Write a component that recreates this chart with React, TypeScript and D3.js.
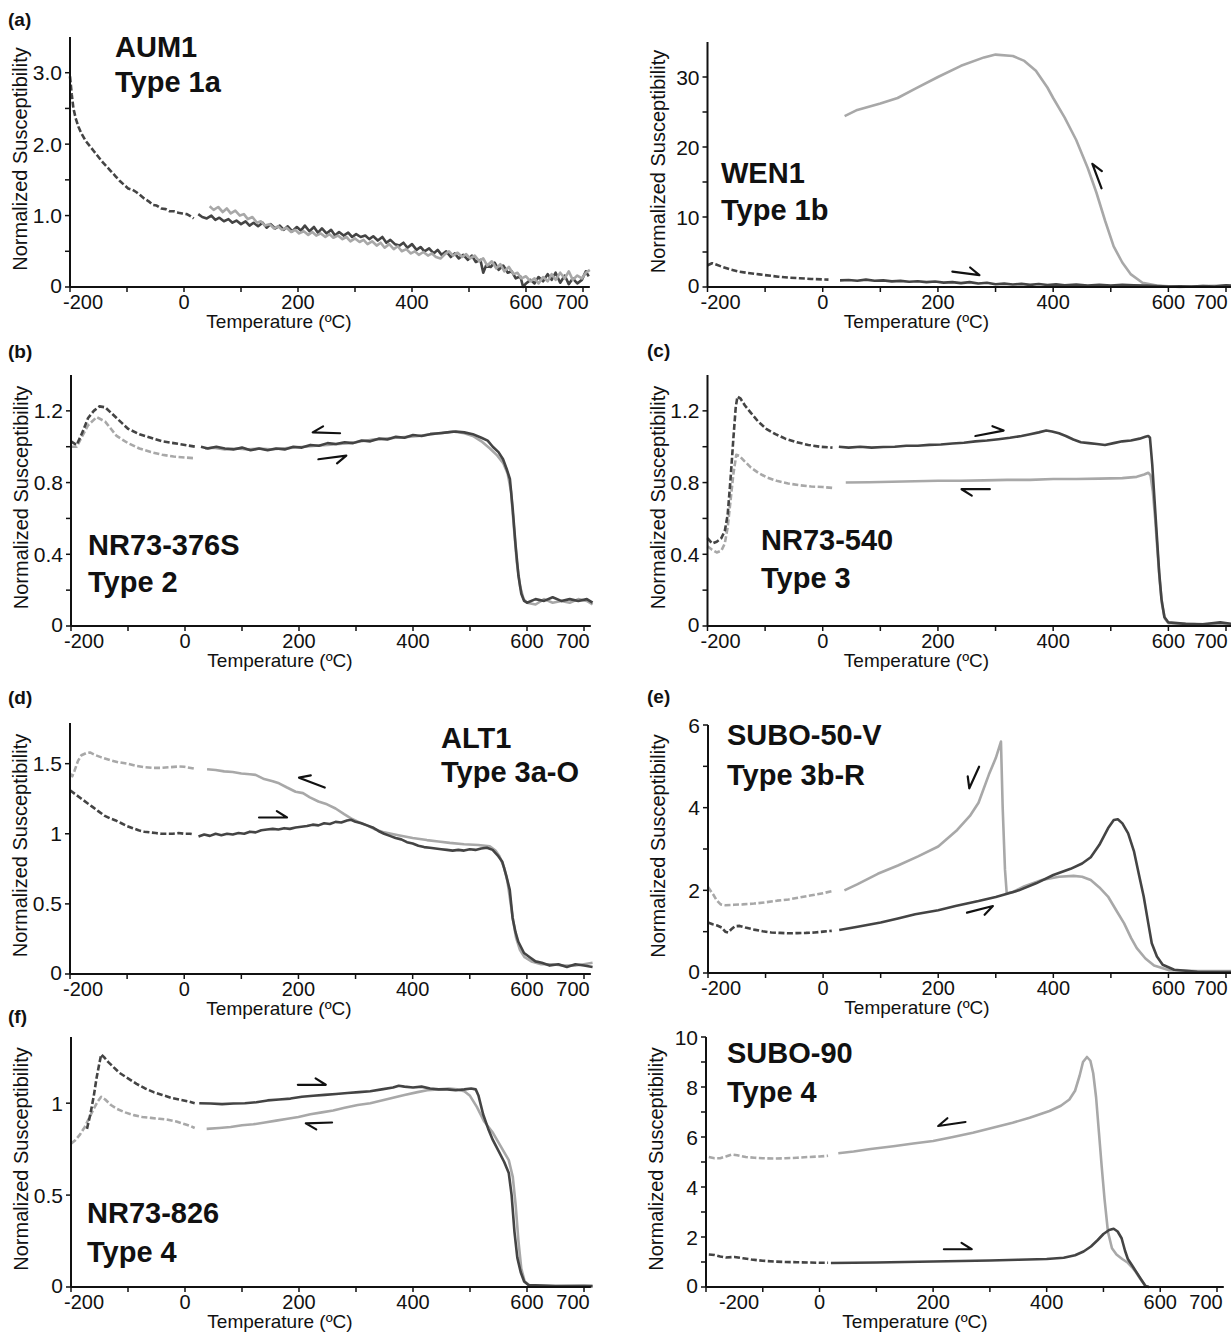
import React from 'react';
import * as d3 from 'd3';

type Pt = [number, number];
// arrow: [tipT, tipValue, tailT, tailValue, barbSide]
type Arrow = [number, number, number, number, number];

const FONT = "'Liberation Sans', Arial, Helvetica, sans-serif";
const DARK = '#444444';
const LIGHT = '#a8a8a8';

const X_TICKS = d3.range(-200, 701, 100);
const X_LABELS = [-200, 0, 200, 400, 600, 700];

// ---- (a) AUM1 ----
const aumHeatLow: Pt[] = [[-200, 2.95], [-197, 2.7], [-194, 2.5], [-190, 2.36], [-185, 2.24], [-180, 2.15], [-172, 2.04], [-165, 1.97], [-158, 1.9], [-150, 1.82], [-142, 1.74], [-135, 1.68], [-128, 1.62], [-120, 1.55], [-112, 1.48], [-105, 1.43], [-98, 1.38], [-90, 1.36], [-84, 1.33], [-76, 1.28], [-70, 1.24], [-62, 1.2], [-55, 1.15], [-48, 1.14], [-40, 1.1], [-32, 1.09], [-25, 1.06], [-18, 1.06], [-10, 1.04], [-3, 1.03], [5, 1.02], [12, 0.99], [17, 0.96]];
const aumHeatHigh: Pt[] = [[25, 1.02], [32, 0.98], [40, 0.96], [48, 1.0], [55, 0.94], [62, 0.97], [70, 0.92], [78, 0.95], [85, 0.9], [92, 0.93], [100, 0.88], [108, 0.92], [115, 0.86], [122, 0.9], [130, 0.85], [138, 0.9], [145, 0.83], [152, 0.88], [160, 0.82], [168, 0.86], [175, 0.8], [182, 0.85], [190, 0.78], [198, 0.84], [205, 0.79], [212, 0.86], [220, 0.78], [228, 0.84], [235, 0.76], [242, 0.82], [250, 0.75], [258, 0.8], [265, 0.72], [272, 0.77], [280, 0.72], [288, 0.76], [295, 0.7], [302, 0.74], [310, 0.7], [318, 0.72], [325, 0.67], [332, 0.71], [340, 0.65], [348, 0.7], [355, 0.62], [362, 0.66], [370, 0.6], [378, 0.58], [385, 0.62], [392, 0.55], [400, 0.6], [408, 0.52], [415, 0.56], [422, 0.5], [430, 0.54], [438, 0.47], [445, 0.52], [452, 0.45], [460, 0.5], [468, 0.42], [475, 0.47], [482, 0.4], [490, 0.45], [498, 0.38], [505, 0.44], [512, 0.35], [520, 0.38], [525, 0.2], [530, 0.3], [538, 0.28], [545, 0.34], [552, 0.24], [560, 0.3], [568, 0.2], [575, 0.22], [582, 0.12], [590, 0.15], [595, 0.0], [600, 0.05], [608, 0.1], [615, 0.05], [622, 0.14], [630, 0.08], [638, 0.18], [645, 0.1], [652, 0.2], [660, 0.06], [668, 0.16], [675, 0.04], [682, 0.12], [690, 0.05], [698, 0.1], [705, 0.22], [710, 0.15]];
const aumCoolHigh: Pt[] = [[45, 1.13], [52, 1.08], [60, 1.12], [68, 1.05], [75, 1.1], [82, 1.03], [90, 1.07], [98, 1.0], [105, 1.02], [112, 0.95], [120, 0.98], [128, 0.9], [135, 0.92], [142, 0.86], [150, 0.88], [158, 0.82], [165, 0.85], [172, 0.8], [180, 0.83], [188, 0.77], [195, 0.8], [202, 0.75], [210, 0.78], [218, 0.73], [225, 0.77], [232, 0.72], [240, 0.75], [248, 0.7], [255, 0.74], [262, 0.69], [270, 0.72], [278, 0.67], [285, 0.7], [292, 0.64], [300, 0.68], [308, 0.63], [315, 0.66], [322, 0.6], [330, 0.64], [338, 0.58], [345, 0.62], [352, 0.55], [360, 0.6], [368, 0.53], [375, 0.57], [382, 0.5], [390, 0.53], [398, 0.47], [405, 0.5], [412, 0.45], [420, 0.49], [428, 0.44], [435, 0.47], [442, 0.42], [450, 0.4], [458, 0.46], [465, 0.5], [472, 0.44], [480, 0.48], [488, 0.42], [495, 0.46], [502, 0.4], [510, 0.44], [518, 0.36], [525, 0.4], [532, 0.3], [540, 0.36], [548, 0.26], [555, 0.32], [562, 0.22], [570, 0.28], [578, 0.18], [585, 0.2], [592, 0.12], [600, 0.15], [608, 0.08], [615, 0.12], [622, 0.05], [630, 0.14], [638, 0.08], [645, 0.18], [652, 0.1], [660, 0.2], [668, 0.12], [675, 0.22], [682, 0.1], [690, 0.16], [698, 0.12], [705, 0.2], [712, 0.24]];

// ---- WEN1 ----
const wenHeatLow: Pt[] = [[-200, 3.1], [-192, 3.4], [-185, 3.2], [-175, 2.9], [-160, 2.5], [-145, 2.2], [-130, 2.0], [-110, 1.8], [-90, 1.6], [-77, 1.47], [-60, 1.35], [-40, 1.25], [-20, 1.15], [0, 1.08], [10, 1.05]];
const wenHeatHigh: Pt[] = [[30, 0.95], [45, 1.0], [60, 0.9], [75, 1.05], [90, 0.9], [105, 0.95], [120, 0.8], [135, 0.88], [150, 0.75], [165, 0.82], [180, 0.7], [195, 0.78], [210, 0.62], [225, 0.7], [240, 0.55], [255, 0.7], [270, 0.5], [285, 0.6], [300, 0.4], [315, 0.48], [330, 0.35], [345, 0.45], [360, 0.3], [375, 0.42], [390, 0.28], [405, 0.38], [420, 0.25], [440, 0.35], [460, 0.22], [480, 0.32], [500, 0.2], [520, 0.3], [540, 0.25], [560, 0.2], [580, 0.12], [600, 0.05], [620, 0.1], [640, 0.05], [660, 0.15], [680, 0.08], [700, 0.25], [712, 0.2]];
const wenCoolHigh: Pt[] = [[38, 24.4], [60, 25.3], [100, 26.2], [130, 27.0], [160, 28.3], [200, 30.0], [240, 31.6], [280, 32.8], [300, 33.2], [330, 33.0], [350, 32.3], [370, 30.9], [390, 28.5], [400, 27.0], [420, 24.2], [440, 21.0], [460, 17.0], [475, 13.5], [490, 9.5], [505, 5.8], [520, 3.5], [535, 1.8], [555, 0.6], [580, 0.2], [620, 0.0], [660, 0.15], [700, 0.2], [715, 0.0]];
const wenArrows: Arrow[] = [[272, 1.7, 225, 2.2, 1], [468, 17.6, 484, 14.1, -1]];

// ---- (b) NR73-376S ----
const n376HeatLow: Pt[] = [[-200, 1.03], [-190, 1.01], [-180, 1.08], [-170, 1.16], [-160, 1.2], [-150, 1.225], [-140, 1.22], [-130, 1.19], [-120, 1.16], [-110, 1.13], [-100, 1.1], [-80, 1.07], [-60, 1.05], [-40, 1.03], [-20, 1.02], [0, 1.01], [18, 1.0]];
const n376CoolLow: Pt[] = [[-200, 1.0], [-190, 1.0], [-180, 1.06], [-170, 1.12], [-155, 1.165], [-140, 1.14], [-130, 1.1], [-120, 1.06], [-100, 1.02], [-80, 0.99], [-60, 0.97], [-40, 0.955], [-20, 0.945], [0, 0.94], [18, 0.935]];
const n376HeatHigh: Pt[] = [[28, 1.0], [40, 0.99], [55, 1.0], [70, 0.99], [85, 0.985], [100, 0.995], [115, 0.98], [130, 0.99], [145, 0.98], [160, 0.99], [175, 0.985], [190, 1.0], [205, 0.995], [220, 1.01], [235, 1.005], [250, 1.02], [265, 1.015], [280, 1.025], [295, 1.02], [310, 1.035], [325, 1.03], [340, 1.045], [355, 1.04], [370, 1.055], [385, 1.05], [400, 1.065], [415, 1.06], [430, 1.07], [445, 1.075], [460, 1.08], [475, 1.085], [490, 1.08], [505, 1.07], [520, 1.05], [531, 1.034], [540, 1.0], [550, 0.97], [558, 0.93], [565, 0.87], [570, 0.82], [575, 0.65], [580, 0.45], [585, 0.28], [590, 0.18], [595, 0.14], [600, 0.13], [615, 0.15], [630, 0.14], [645, 0.16], [660, 0.14], [675, 0.15], [690, 0.14], [705, 0.15], [715, 0.13]];
const n376CoolHigh: Pt[] = [[35, 0.99], [50, 0.995], [70, 0.985], [90, 0.99], [110, 0.985], [130, 0.99], [150, 0.985], [170, 0.99], [190, 0.995], [210, 1.0], [230, 1.005], [250, 1.01], [270, 1.015], [290, 1.02], [310, 1.03], [330, 1.04], [350, 1.045], [370, 1.05], [390, 1.055], [410, 1.06], [430, 1.07], [450, 1.075], [470, 1.085], [490, 1.075], [505, 1.06], [520, 1.03], [535, 0.99], [548, 0.95], [558, 0.91], [566, 0.85], [572, 0.75], [577, 0.55], [582, 0.36], [588, 0.22], [594, 0.15], [600, 0.13], [615, 0.12], [630, 0.15], [645, 0.13], [660, 0.14], [675, 0.13], [690, 0.15], [705, 0.14], [715, 0.12]];
const n376Arrows: Arrow[] = [[224, 1.08, 272, 1.075, -1], [283, 0.95, 234, 0.93, -1]];

// ---- (c) NR73-540 ----
const n540HeatLow: Pt[] = [[-200, 0.49], [-192, 0.46], [-184, 0.47], [-176, 0.49], [-170, 0.53], [-165, 0.62], [-160, 0.82], [-155, 1.05], [-151, 1.22], [-148, 1.28], [-143, 1.27], [-135, 1.23], [-125, 1.19], [-112, 1.14], [-98, 1.1], [-82, 1.07], [-65, 1.045], [-45, 1.025], [-25, 1.01], [-5, 1.0], [17, 0.995]];
const n540CoolLow: Pt[] = [[-200, 0.445], [-192, 0.425], [-184, 0.41], [-176, 0.42], [-170, 0.46], [-165, 0.55], [-160, 0.7], [-155, 0.85], [-150, 0.955], [-145, 0.95], [-136, 0.92], [-125, 0.885], [-112, 0.855], [-98, 0.83], [-80, 0.81], [-60, 0.795], [-40, 0.785], [-20, 0.778], [0, 0.775], [17, 0.77]];
const n540HeatHigh: Pt[] = [[28, 1.0], [45, 0.995], [65, 1.0], [85, 0.995], [105, 0.998], [125, 1.0], [145, 1.005], [165, 1.005], [185, 1.01], [205, 1.012], [225, 1.018], [245, 1.022], [265, 1.03], [285, 1.035], [305, 1.042], [325, 1.05], [345, 1.06], [360, 1.07], [375, 1.08], [388, 1.09], [398, 1.085], [410, 1.075], [422, 1.06], [435, 1.04], [448, 1.025], [462, 1.02], [476, 1.015], [490, 1.01], [505, 1.02], [520, 1.03], [535, 1.035], [550, 1.045], [560, 1.055], [565, 1.06], [568, 1.05], [572, 0.9], [576, 0.7], [580, 0.5], [584, 0.3], [588, 0.15], [593, 0.05], [600, 0.02], [630, 0.012], [660, 0.01], [690, 0.02], [715, 0.01]];
const n540CoolHigh: Pt[] = [[40, 0.8], [80, 0.802], [120, 0.805], [160, 0.807], [200, 0.81], [240, 0.81], [280, 0.812], [320, 0.815], [360, 0.815], [400, 0.82], [440, 0.82], [480, 0.822], [520, 0.825], [545, 0.832], [558, 0.845], [565, 0.855], [569, 0.84], [573, 0.75], [577, 0.6], [581, 0.42], [585, 0.25], [589, 0.12], [594, 0.04], [600, 0.015], [650, 0.01], [700, 0.012], [715, 0.008]];
const n540Arrows: Arrow[] = [[314, 1.09, 265, 1.06, 1], [241, 0.763, 290, 0.763, 1]];

// ---- (d) ALT1 ----
const altHeatLow: Pt[] = [[-200, 1.31], [-190, 1.28], [-180, 1.25], [-170, 1.22], [-160, 1.19], [-150, 1.16], [-140, 1.13], [-130, 1.11], [-120, 1.095], [-110, 1.075], [-100, 1.055], [-90, 1.04], [-80, 1.025], [-70, 1.015], [-60, 1.01], [-50, 1.005], [-40, 1.0], [-30, 1.0], [-20, 1.0], [-10, 1.005], [0, 1.0], [10, 1.0], [17, 0.995]];
const altCoolLow: Pt[] = [[-200, 1.43], [-196, 1.41], [-192, 1.45], [-186, 1.52], [-180, 1.56], [-172, 1.575], [-165, 1.58], [-155, 1.56], [-145, 1.545], [-130, 1.525], [-115, 1.51], [-100, 1.5], [-85, 1.485], [-70, 1.475], [-55, 1.47], [-40, 1.47], [-25, 1.475], [-10, 1.48], [0, 1.478], [17, 1.465]];
const altHeatHigh: Pt[] = [[25, 0.98], [35, 0.995], [45, 0.985], [55, 1.0], [65, 0.99], [75, 1.0], [85, 0.995], [95, 1.005], [105, 1.0], [115, 1.015], [125, 1.01], [135, 1.025], [145, 1.03], [155, 1.035], [165, 1.03], [175, 1.04], [185, 1.035], [195, 1.045], [205, 1.05], [215, 1.055], [225, 1.065], [235, 1.06], [245, 1.075], [255, 1.07], [265, 1.085], [275, 1.08], [285, 1.095], [292, 1.1], [300, 1.085], [310, 1.075], [320, 1.06], [330, 1.045], [340, 1.02], [350, 1.0], [360, 0.985], [370, 0.97], [380, 0.96], [390, 0.94], [400, 0.93], [410, 0.915], [420, 0.905], [430, 0.9], [440, 0.895], [450, 0.89], [460, 0.885], [470, 0.88], [480, 0.885], [490, 0.88], [500, 0.89], [510, 0.885], [520, 0.895], [530, 0.9], [540, 0.885], [550, 0.84], [557, 0.8], [564, 0.7], [570, 0.6], [575, 0.4], [580, 0.3], [585, 0.23], [595, 0.15], [605, 0.12], [615, 0.09], [626, 0.08], [640, 0.06], [655, 0.07], [670, 0.05], [685, 0.07], [700, 0.06], [715, 0.05]];
const altCoolHigh: Pt[] = [[40, 1.46], [55, 1.455], [70, 1.445], [85, 1.44], [100, 1.43], [115, 1.425], [125, 1.42], [140, 1.39], [155, 1.375], [166, 1.36], [180, 1.33], [195, 1.3], [208, 1.29], [220, 1.26], [235, 1.23], [250, 1.21], [265, 1.18], [280, 1.14], [292, 1.11], [305, 1.085], [320, 1.06], [335, 1.03], [350, 1.01], [375, 0.99], [400, 0.97], [425, 0.955], [445, 0.945], [465, 0.935], [490, 0.925], [515, 0.92], [535, 0.91], [545, 0.88], [552, 0.84], [560, 0.76], [566, 0.66], [571, 0.52], [576, 0.38], [581, 0.26], [588, 0.17], [596, 0.12], [608, 0.09], [625, 0.07], [645, 0.07], [665, 0.06], [685, 0.06], [700, 0.07], [715, 0.08]];
const altArrows: Arrow[] = [[201, 1.4, 246, 1.33, -1], [180, 1.116, 131, 1.116, 1]];

// ---- (e) SUBO-50-V ----
const suboVHeatLow: Pt[] = [[-200, 1.22], [-192, 1.18], [-184, 1.15], [-176, 1.1], [-170, 1.0], [-165, 0.98], [-160, 1.05], [-153, 1.13], [-145, 1.14], [-135, 1.1], [-120, 1.05], [-105, 1.01], [-90, 0.98], [-75, 0.97], [-60, 0.96], [-45, 0.965], [-30, 0.97], [-15, 0.98], [0, 1.0], [15, 1.02]];
const suboVCoolLow: Pt[] = [[-200, 2.08], [-195, 1.98], [-190, 1.88], [-185, 1.76], [-178, 1.66], [-170, 1.64], [-155, 1.65], [-140, 1.66], [-120, 1.68], [-100, 1.71], [-80, 1.75], [-60, 1.78], [-40, 1.83], [-20, 1.88], [0, 1.93], [15, 1.98]];
const suboVHeatHigh: Pt[] = [[28, 1.04], [60, 1.12], [100, 1.22], [130, 1.32], [160, 1.42], [200, 1.52], [230, 1.62], [270, 1.74], [300, 1.84], [340, 2.0], [370, 2.17], [400, 2.37], [430, 2.52], [450, 2.65], [465, 2.8], [480, 3.1], [495, 3.5], [505, 3.7], [512, 3.72], [520, 3.62], [530, 3.38], [540, 2.95], [550, 2.3], [557, 1.85], [565, 1.2], [571, 0.72], [580, 0.4], [590, 0.2], [610, 0.08], [650, 0.03], [700, 0.02], [715, 0.02]];
const suboVCoolHigh: Pt[] = [[37, 2.0], [60, 2.15], [95, 2.4], [130, 2.6], [165, 2.82], [200, 3.06], [233, 3.46], [255, 3.8], [270, 4.12], [288, 4.8], [300, 5.2], [309, 5.6], [312, 4.0], [316, 2.5], [319, 1.93], [330, 1.96], [350, 2.1], [380, 2.25], [410, 2.33], [435, 2.35], [450, 2.33], [465, 2.25], [480, 2.07], [495, 1.85], [510, 1.5], [523, 1.2], [535, 0.85], [545, 0.6], [560, 0.35], [575, 0.18], [600, 0.07], [650, 0.05], [700, 0.05], [715, 0.04]];
const suboVArrows: Arrow[] = [[254, 4.47, 271, 4.99, -1], [295, 1.62, 250, 1.46, -1]];

// ---- (f) NR73-826 ----
const n826HeatLow: Pt[] = [[-172, 0.86], [-166, 0.94], [-160, 1.04], [-155, 1.14], [-150, 1.22], [-147, 1.265], [-142, 1.25], [-135, 1.225], [-125, 1.195], [-115, 1.165], [-100, 1.135], [-85, 1.105], [-70, 1.08], [-55, 1.06], [-40, 1.045], [-25, 1.03], [-10, 1.02], [5, 1.01], [17, 1.0]];
const n826CoolLow: Pt[] = [[-200, 0.78], [-192, 0.8], [-184, 0.83], [-176, 0.87], [-168, 0.92], [-160, 0.97], [-153, 1.01], [-147, 1.035], [-140, 1.02], [-130, 0.99], [-120, 0.97], [-105, 0.95], [-90, 0.935], [-75, 0.925], [-60, 0.92], [-45, 0.915], [-30, 0.91], [-15, 0.9], [0, 0.885], [10, 0.875], [17, 0.865]];
const n826HeatHigh: Pt[] = [[25, 1.0], [45, 0.998], [65, 0.995], [85, 0.998], [105, 1.0], [125, 1.005], [145, 1.015], [165, 1.02], [185, 1.025], [205, 1.035], [225, 1.04], [245, 1.045], [265, 1.05], [285, 1.055], [305, 1.06], [325, 1.065], [345, 1.075], [365, 1.085], [375, 1.095], [385, 1.09], [400, 1.085], [415, 1.09], [430, 1.08], [445, 1.075], [460, 1.075], [475, 1.07], [490, 1.075], [502, 1.08], [510, 1.075], [515, 1.04], [523, 0.94], [532, 0.86], [540, 0.8], [550, 0.74], [560, 0.68], [568, 0.62], [573, 0.5], [578, 0.3], [583, 0.16], [589, 0.08], [595, 0.03], [603, 0.01], [650, 0.005], [700, 0.005], [715, 0.005]];
const n826CoolHigh: Pt[] = [[38, 0.86], [60, 0.865], [80, 0.87], [100, 0.88], [120, 0.885], [140, 0.895], [160, 0.905], [180, 0.915], [199, 0.925], [220, 0.94], [240, 0.95], [260, 0.96], [280, 0.975], [303, 0.99], [325, 1.0], [345, 1.015], [365, 1.03], [385, 1.045], [408, 1.06], [425, 1.07], [445, 1.075], [463, 1.08], [478, 1.075], [490, 1.065], [500, 1.04], [512, 0.98], [525, 0.9], [540, 0.84], [555, 0.76], [568, 0.69], [575, 0.6], [580, 0.45], [585, 0.25], [590, 0.1], [596, 0.03], [605, 0.008], [650, 0.005], [700, 0.008], [715, 0.005]];
const n826Arrows: Arrow[] = [[247, 1.1, 198, 1.1, 1], [212, 0.89, 258, 0.895, 1]];

// ---- SUBO-90 ----
const subo90HeatLow: Pt[] = [[-195, 1.3], [-185, 1.28], [-175, 1.22], [-165, 1.18], [-150, 1.2], [-135, 1.15], [-120, 1.1], [-100, 1.05], [-80, 1.02], [-60, 1.0], [-40, 0.99], [-20, 0.98], [0, 0.97], [15, 0.97]];
const subo90CoolLow: Pt[] = [[-195, 5.2], [-185, 5.15], [-175, 5.15], [-165, 5.22], [-155, 5.3], [-145, 5.27], [-130, 5.2], [-115, 5.17], [-100, 5.15], [-80, 5.14], [-60, 5.15], [-40, 5.17], [-20, 5.2], [0, 5.22], [15, 5.25]];
const subo90HeatHigh: Pt[] = [[20, 0.96], [60, 0.97], [100, 0.98], [150, 1.0], [200, 1.02], [250, 1.04], [300, 1.06], [350, 1.09], [400, 1.12], [430, 1.17], [450, 1.27], [465, 1.42], [478, 1.62], [490, 1.88], [500, 2.12], [510, 2.28], [518, 2.33], [525, 2.22], [532, 1.95], [538, 1.45], [543, 1.12], [550, 0.88], [557, 0.63], [565, 0.35], [574, 0.04], [580, 0.0]];
const subo90CoolHigh: Pt[] = [[33, 5.35], [60, 5.42], [90, 5.52], [130, 5.63], [165, 5.74], [200, 5.84], [235, 6.0], [270, 6.17], [305, 6.37], [340, 6.57], [370, 6.77], [405, 7.04], [425, 7.25], [440, 7.5], [450, 7.85], [458, 8.45], [464, 9.0], [471, 9.2], [477, 9.05], [482, 8.55], [487, 7.6], [492, 6.2], [497, 4.8], [502, 3.5], [508, 2.2], [515, 1.55], [523, 1.3], [533, 1.12], [543, 0.97], [550, 0.8], [557, 0.6], [565, 0.32], [574, 0.04], [580, 0.0]];
const subo90Arrows: Arrow[] = [[209, 6.44, 257, 6.6, -1], [268, 1.51, 219, 1.51, 1]];

interface Series { data: Pt[]; color: string; dashed?: boolean }
interface PanelSpec {
  tag?: string; tagX?: number; tagY?: number;
  x0: number; x1: number; yTop: number; yBot: number; yMax: number;
  yTicks: number[]; yLabels: number[]; fmt: (v: number) => string;
  title: [string, string]; titleX: number; titleY: [number, number];
  series: Series[]; arrows: Arrow[]; firstDx?: number; lastDx?: number;
}

const fmt1 = (v: number) => (v === 0 ? '0' : v.toFixed(1));
const fmtG = (v: number) => String(v);

const four = (hl: Pt[], cl: Pt[] | null, hh: Pt[], ch: Pt[]): Series[] => {
  const s: Series[] = [];
  if (cl) s.push({ data: cl, color: LIGHT, dashed: true });
  s.push({ data: hl, color: DARK, dashed: true });
  s.push({ data: ch, color: LIGHT });
  s.push({ data: hh, color: DARK });
  return s;
};

const panels: PanelSpec[] = [
  { tag: '(a)', tagX: 8, tagY: 26, x0: 70, x1: 583, yTop: 37, yBot: 287, yMax: 3.5,
    yTicks: [0, 0.5, 1, 1.5, 2, 2.5, 3], yLabels: [0, 1, 2, 3], fmt: fmt1,
    title: ['AUM1', 'Type 1a'], titleX: 115, titleY: [57, 92],
    series: [{ data: aumHeatLow, color: DARK, dashed: true }, { data: aumHeatHigh, color: DARK }, { data: aumCoolHigh, color: LIGHT }], arrows: [] },
  { x0: 707.5, x1: 1226, yTop: 42, yBot: 287, yMax: 35, lastDx: -15,
    yTicks: [0, 5, 10, 15, 20, 25, 30], yLabels: [0, 10, 20, 30], fmt: fmtG,
    title: ['WEN1', 'Type 1b'], titleX: 721, titleY: [183, 220],
    series: [{ data: wenHeatLow, color: DARK, dashed: true }, { data: wenCoolHigh, color: LIGHT }, { data: wenHeatHigh, color: DARK }], arrows: wenArrows },
  { tag: '(b)', tagX: 8, tagY: 358, x0: 71, x1: 584, yTop: 375, yBot: 626, yMax: 1.4,
    yTicks: [0, 0.2, 0.4, 0.6, 0.8, 1.0, 1.2], yLabels: [0, 0.4, 0.8, 1.2], fmt: fmt1,
    title: ['NR73-376S', 'Type 2'], titleX: 88, titleY: [555, 592],
    series: four(n376HeatLow, n376CoolLow, n376HeatHigh, n376CoolHigh), arrows: n376Arrows },
  { tag: '(c)', tagX: 647, tagY: 357, x0: 707.5, x1: 1226, yTop: 375, yBot: 626, yMax: 1.4, lastDx: -15,
    yTicks: [0, 0.2, 0.4, 0.6, 0.8, 1.0, 1.2], yLabels: [0, 0.4, 0.8, 1.2], fmt: fmt1,
    title: ['NR73-540', 'Type 3'], titleX: 761, titleY: [550, 588],
    series: four(n540HeatLow, n540CoolLow, n540HeatHigh, n540CoolHigh), arrows: n540Arrows },
  { tag: '(d)', tagX: 8, tagY: 704, x0: 70, x1: 584, yTop: 723, yBot: 974, yMax: 1.79,
    yTicks: [0, 0.5, 1, 1.5], yLabels: [0, 0.5, 1, 1.5], fmt: fmtG,
    title: ['ALT1', 'Type 3a-O'], titleX: 441, titleY: [748, 782],
    series: four(altHeatLow, altCoolLow, altHeatHigh, altCoolHigh), arrows: altArrows },
  { tag: '(e)', tagX: 647, tagY: 703, x0: 708, x1: 1226, yTop: 725, yBot: 973, yMax: 6, lastDx: -15,
    yTicks: [0, 1, 2, 3, 4, 5, 6], yLabels: [0, 2, 4, 6], fmt: fmtG,
    title: ['SUBO-50-V', 'Type 3b-R'], titleX: 727, titleY: [745, 785],
    series: four(suboVHeatLow, suboVCoolLow, suboVHeatHigh, suboVCoolHigh), arrows: suboVArrows },
  { tag: '(f)', tagX: 8, tagY: 1023, x0: 71, x1: 584, yTop: 1037, yBot: 1287, yMax: 1.36,
    yTicks: [0, 0.5, 1], yLabels: [0, 0.5, 1], fmt: fmtG,
    title: ['NR73-826', 'Type 4'], titleX: 87, titleY: [1223, 1262],
    series: four(n826HeatLow, n826CoolLow, n826HeatHigh, n826CoolHigh), arrows: n826Arrows },
  { x0: 706, x1: 1217, yTop: 1037, yBot: 1287, yMax: 10,
    yTicks: [0, 1, 2, 3, 4, 5, 6, 7, 8, 9, 10], yLabels: [0, 2, 4, 6, 8, 10], fmt: fmtG,
    title: ['SUBO-90', 'Type 4'], titleX: 727, titleY: [1063, 1102], firstDx: 33,
    series: four(subo90HeatLow, subo90CoolLow, subo90HeatHigh, subo90CoolHigh), arrows: subo90Arrows },
];

function Panel({ p }: { p: PanelSpec }) {
  const x = d3.scaleLinear().domain([-200, 700]).range([p.x0, p.x1]);
  const y = d3.scaleLinear().domain([0, p.yMax]).range([p.yBot, p.yTop]);
  const line = d3.line<Pt>().x(d => x(d[0])).y(d => y(d[1]));
  const axisX0 = x(-200);

  const arrowPath = (a: Arrow) => {
    const tx = x(a[0]), ty = y(a[1]);
    const bx0 = x(a[2]), by0 = y(a[3]);
    const len = Math.hypot(bx0 - tx, by0 - ty);
    const ux = (bx0 - tx) / len, uy = (by0 - ty) / len;
    const th = (a[4] * 32 * Math.PI) / 180;
    const bx = ux * Math.cos(th) - uy * Math.sin(th);
    const by = ux * Math.sin(th) + uy * Math.cos(th);
    const bl = 12;
    return `M${bx0},${by0}L${tx},${ty}L${tx + bx * bl},${ty + by * bl}`;
  };

  const labelDx = (i: number) =>
    i === 0 ? (p.firstDx ?? 13) : i === X_LABELS.length - 1 ? (p.lastDx ?? -11) : 0;

  return (
    <g>
      {p.tag && (
        <text x={p.tagX} y={p.tagY} fontSize={19} fontWeight="bold" fontFamily={FONT} fill="#111">{p.tag}</text>
      )}
      {p.series.map((s, i) => (
        <path key={i} d={line(s.data) || ''} fill="none" stroke={s.color} strokeWidth={2.6}
          strokeDasharray={s.dashed ? '6 2.5' : undefined} strokeLinejoin="round" />
      ))}
      {/* axes */}
      <line x1={axisX0} x2={x(712)} y1={p.yBot} y2={p.yBot} stroke="#111" strokeWidth={2} />
      <line x1={axisX0} x2={axisX0} y1={p.yBot} y2={p.yTop} stroke="#111" strokeWidth={2} />
      {X_TICKS.map(t => (
        <line key={t} x1={x(t)} x2={x(t)} y1={p.yBot} y2={p.yBot + 5} stroke="#111" strokeWidth={1.5} />
      ))}
      {X_LABELS.map((t, i) => (
        <text key={t} x={x(t) + labelDx(i)} y={p.yBot + 22}
          textAnchor="middle" fontSize={20} fontFamily={FONT} fill="#111">{t}</text>
      ))}
      {p.yTicks.map(t => (
        <line key={t} x1={axisX0 - 5} x2={axisX0} y1={y(t)} y2={y(t)} stroke="#111" strokeWidth={1.5} />
      ))}
      {p.yLabels.map(t => (
        <text key={t} x={axisX0 - 8} y={y(t) - (t === 0 ? 2 : 0)} dy="0.36em" textAnchor="end" fontSize={21} fontFamily={FONT} fill="#111">{p.fmt(t)}</text>
      ))}
      <text transform={`translate(${axisX0 - 43},${(p.yTop + p.yBot) / 2 - 3}) rotate(-90)`} textAnchor="middle"
        fontSize={20} fontFamily={FONT} fill="#111">Normalized Susceptibility</text>
      <text x={axisX0 + 209} y={p.yBot + 41} textAnchor="middle" fontSize={19} fontFamily={FONT} fill="#111">Temperature (ºC)</text>
      {/* sample names */}
      <text x={p.titleX} y={p.titleY[0]} fontSize={29} fontWeight="bold" fontFamily={FONT} fill="#111">{p.title[0]}</text>
      <text x={p.titleX} y={p.titleY[1]} fontSize={29} fontWeight="bold" fontFamily={FONT} fill="#111">{p.title[1]}</text>
      {p.arrows.map((a, i) => (
        <path key={i} d={arrowPath(a)} fill="none" stroke="#111" strokeWidth={2.2} strokeLinecap="round" strokeLinejoin="round" />
      ))}
    </g>
  );
}

export default function App() {
  return (
    <svg width={1231} height={1332} style={{ position: 'absolute', left: 0, top: 0, background: '#fff' }}>
      <rect width={1231} height={1332} fill="#fff" />
      {panels.map((p, i) => <Panel key={i} p={p} />)}
    </svg>
  );
}
